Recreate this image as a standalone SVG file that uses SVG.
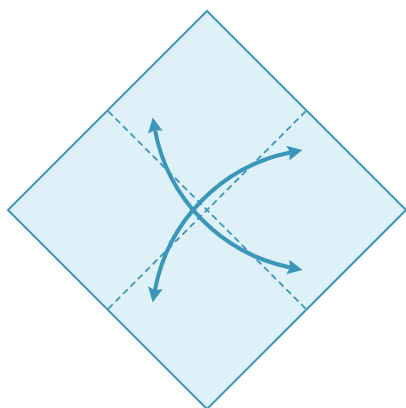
<svg xmlns="http://www.w3.org/2000/svg" width="406" height="408" viewBox="0 0 406 408">
  <style>
    .paper { fill: #dff1f8; stroke: #3f97b7; stroke-width: 2; stroke-linejoin: miter; }
    .fold { fill: none; stroke: #3f97b7; stroke-width: 1.8; stroke-dasharray: 6.5 4; stroke-dashoffset: 9.55; }
    .arrow { fill: none; stroke: #3b97ba; stroke-width: 4; marker-start: url(#head); marker-end: url(#head); }
  </style>
  <defs>
    <marker id="head" markerUnits="userSpaceOnUse" markerWidth="17" markerHeight="17" refX="2.5" refY="7.5" orient="auto-start-reverse">
      <path d="M0,0 L15,7.5 L0,15 L2.5,7.5 Z" fill="#3b97ba"/>
    </marker>
  </defs>
  <g id="paper">
    <polygon class="paper" points="207,11 406,210 207,409 8,210"/>
  </g>
  <g id="folds">
    <line class="fold" x1="107.5" y1="110.5" x2="306.5" y2="309.5"/>
    <line class="fold" x1="306.5" y1="110.5" x2="107.5" y2="309.5"/>
  </g>
  <g id="connectors">
    <path class="arrow" d="M154.95,129.82 A173,173 0 0 0 290.21,267.47"/>
    <path class="arrow" d="M154.95,290.18 A173,173 0 0 1 290.21,152.53"/>
  </g>
</svg>
